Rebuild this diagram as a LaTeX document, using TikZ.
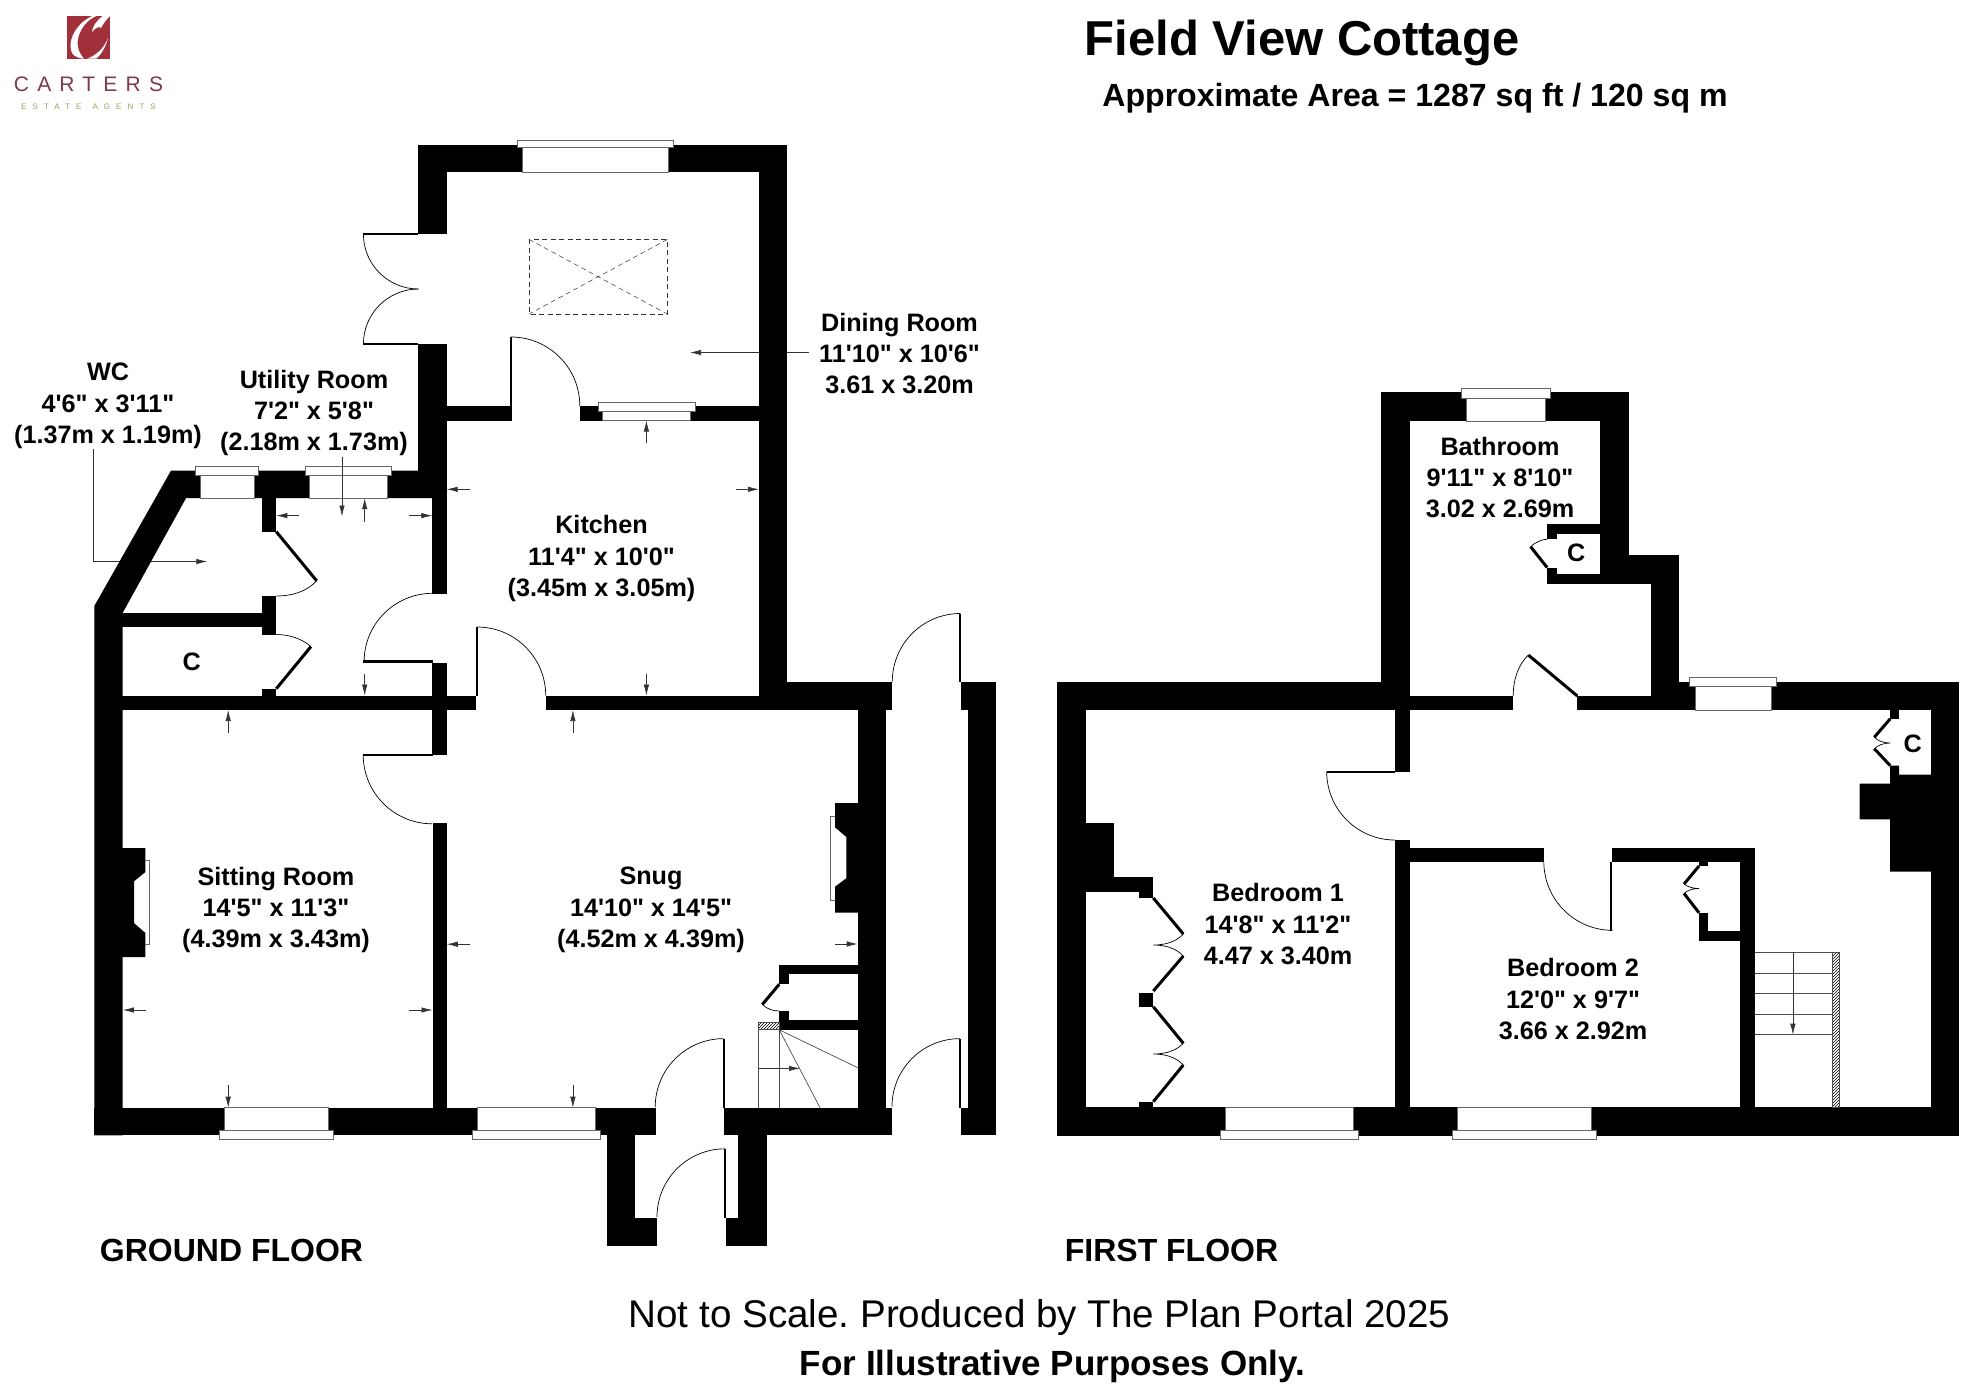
\documentclass[tikz,border=0pt]{standalone}
\usepackage{fontspec}
\usetikzlibrary{arrows.meta,patterns}
\newfontfamily\planfont{Liberation Sans}
\definecolor{logored}{HTML}{A1303B}
\definecolor{logotext}{HTML}{7E3A48}
\definecolor{logogold}{HTML}{A99A5C}
\frenchspacing
\begin{document}
\begin{tikzpicture}[x=1pt,y=-1pt]
\tikzstyle{wall}=[fill=black,draw=none]
\tikzstyle{glass}=[fill=white,draw=black!60,line width=0.6pt]
\tikzstyle{swing}=[draw=black,line width=0.7pt]
\tikzstyle{leaf}=[draw=black,line width=2.2pt]
\tikzstyle{tread}=[draw=black!70,line width=0.7pt]
\tikzstyle{skylight}=[draw=black!80,line width=0.5pt,dash pattern=on 5pt off 3.5pt]
\tikzstyle{dim}=[draw=black!80,line width=0.7pt,-{Latex[length=11pt,width=5.5pt]}]
\tikzstyle{roomlabel}=[font=\planfont\bfseries\fontsize{25.2}{31.3}\selectfont,align=center,inner sep=0pt]
\tikzstyle{floorlabel}=[font=\planfont\bfseries\fontsize{32}{38}\selectfont,inner sep=0pt]
\useasboundingbox (0,0) rectangle (1961,1385);
% logo
\fill[logored] (67.3,15.7) rectangle (110.3,58.7);
\fill[white] (93,15.7) .. controls (78,22) and (68,38) .. (71,50) .. controls (72,55) and (76,58) .. (84,58.7) .. controls (78,52) and (76,44) .. (79,35) .. controls (82,27) and (87,20) .. (97,15.7) -- cycle;
\fill[white] (103,15.7) .. controls (97,20) and (92,27) .. (92,32) .. controls (96,27) and (100,26) .. (101,28) .. controls (103,24) and (106,20) .. (110.3,15.7) -- cycle;
\fill[white] (108,38) .. controls (104,48) and (97,55) .. (87,58.7) -- (96,58.7) .. controls (102,54) and (106,46) .. (108,38) -- cycle;
\node[text=logotext,inner sep=0pt] (logoname) at (88.5,84) {\planfont\addfontfeature{LetterSpace=39}\fontsize{21}{24}\selectfont CARTERS};
\node[text=logogold,inner sep=0pt] (logosub) at (88.5,106.5) {\planfont\addfontfeature{LetterSpace=76}\fontsize{8}{10}\selectfont ESTATE\hspace{11pt}AGENTS};
% leader lines that pass under the walls
\draw[dim] (93.3,449) -- (93.3,561.5) -- (207.3,561.5);
\draw[dim] (809,352.5) -- (690,352.5);
% ground floor walls
\fill[wall] (171,470.6) -- (446.7,470.6) -- (446.7,498.2) -- (186,498.2) -- (122.6,613) -- (122.6,1135.4) -- (94.3,1135.4) -- (94.3,606) -- cycle;
\fill[wall] (418.3,144.5) rectangle (786.6,172.2);
\fill[wall] (418.3,144.5) rectangle (446.5,234);
\fill[wall] (418.3,344.2) rectangle (446.5,498);
\fill[wall] (759,144.5) rectangle (786.6,710);
\fill[wall] (446,406) rectangle (510.7,420.5);
\fill[wall] (579.5,406) rectangle (759,420.5);
\fill[wall] (432.3,490) rectangle (446.7,593.7);
\fill[wall] (432.3,662.5) rectangle (446.7,754.8);
\fill[wall] (432.5,823.2) rectangle (446.8,1108);
\fill[wall] (122,695.6) rectangle (476.3,710);
\fill[wall] (545.5,695.6) rectangle (786,710);
\fill[wall] (786,682) rectangle (892,710);
\fill[wall] (857.7,710) rectangle (885.7,1108);
\fill[wall] (960.7,682) rectangle (996.3,710);
\fill[wall] (967.7,710) rectangle (996.3,1135.4);
\fill[wall] (960.7,1107.9) rectangle (996.3,1135.4);
\fill[wall] (94.3,1107.7) rectangle (655.7,1135.4);
\fill[wall] (723.7,1107.7) rectangle (892,1135.4);
\fill[wall] (607.3,1135) rectangle (635.3,1245.6);
\fill[wall] (607.3,1217.7) rectangle (657,1245.6);
\fill[wall] (738.3,1135) rectangle (766.7,1245.6);
\fill[wall] (725.7,1217.7) rectangle (766.7,1245.6);
% wc and cupboard walls
\fill[wall] (122,613) rectangle (263,627);
\fill[wall] (262.3,498) rectangle (276.3,531.7);
\fill[wall] (262.3,596) rectangle (276.3,634.5);
\fill[wall] (262.3,688.7) rectangle (276.3,696);
% chimney breasts
\fill[wall] (122,848) -- (145.4,848) -- (145.4,872) -- (134,881.3) -- (134,923) -- (145.4,933) -- (145.4,957) -- (122,957) -- cycle;
\fill[wall] (858,803.2) -- (835,803.2) -- (835,827.3) -- (846.3,837) -- (846.3,878.2) -- (835,886.7) -- (835,912.7) -- (858,912.7) -- cycle;
\draw[glass,fill=none] (145.4,860.2) -- (149.6,860.2) -- (149.6,944.2) -- (145.4,944.2);
\draw[glass,fill=none] (835,815.9) -- (830.3,815.9) -- (830.3,900) -- (835,900);
% under stairs cupboard
\fill[wall] (779.3,965) rectangle (858,974.3);
\fill[wall] (779.3,965) rectangle (789,984.2);
\fill[wall] (779.3,1011) rectangle (789,1029.8);
\fill[wall] (779.3,1020.2) rectangle (858,1029.8);
% ground floor windows
\draw[glass] (195.3,466.5) rectangle (258.3,475);
\draw[glass] (200,475) rectangle (254,498.2);
\draw[glass] (305,466.5) rectangle (391.7,475);
\draw[glass] (309.7,475) rectangle (387,498.2);
\draw[glass] (517.4,139.8) rectangle (673.7,147.7);
\draw[glass] (521.9,147.7) rectangle (668.3,172.2);
\draw[glass] (598.2,402.3) rectangle (695.5,411.4);
\draw[glass] (602.7,411.4) rectangle (690.6,420.5);
\draw[glass] (219.3,1130.3) rectangle (333.6,1139.5);
\draw[glass] (224.3,1107.7) rectangle (328.6,1130.3);
\draw[glass] (471.8,1130.3) rectangle (600,1139.5);
\draw[glass] (476.8,1107.7) rectangle (595,1130.3);
% roof light
\draw[skylight] (529,239.4) rectangle (667.4,314.1);
\draw[skylight] (529,239.4) -- (667.4,314.1);
\draw[skylight] (667.4,239.4) -- (529,314.1);
% ground floor doors
\draw[leaf] (363.4,234) -- (418.3,234);
\draw[leaf] (363.4,344.2) -- (418.3,344.2);
\draw[swing] (363.4,234) arc[start angle=180,end angle=90,radius=55];
\draw[swing] (418.4,289) arc[start angle=270,end angle=180,radius=55];
\draw[leaf] (510.7,420.5) -- (510.7,337);
\draw[swing] (511,337) arc[start angle=270,end angle=360,radius=68.8];
\draw[leaf] (363.4,661.5) -- (432.6,661.5);
\draw[swing] (432.6,593.3) arc[start angle=270,end angle=180,radius=68.5];
\draw[leaf] (477.2,696) -- (477.2,627);
\draw[swing] (477.2,627) arc[start angle=270,end angle=360,radius=68.5];
\draw[leaf] (363.2,754.8) -- (432.5,754.8);
\draw[swing] (363.2,754.8) arc[start angle=180,end angle=90,radius=69];
\draw[leaf] (723.7,1108) -- (723.7,1038.6);
\draw[swing] (723.7,1038.6) arc[start angle=270,end angle=180,radius=68.5];
\draw[leaf] (725,1217.7) -- (725,1148.8);
\draw[swing] (725,1148.8) arc[start angle=270,end angle=180,radius=68];
\draw[leaf] (960.3,682) -- (960.3,613.5);
\draw[swing] (960.3,613.5) arc[start angle=270,end angle=180,radius=68];
\draw[leaf] (960,1108) -- (960,1038.6);
\draw[swing] (960,1038.6) arc[start angle=270,end angle=180,radius=68];
\draw[leaf,line width=3pt] (276.3,531.7) -- (316.7,580.8);
\draw[swing] (276.3,596) .. controls (295,596) and (308,590) .. (316.7,580.8);
\draw[leaf,line width=3pt] (311,646.5) -- (276.3,688.7);
\draw[swing] (276.3,634.5) .. controls (290,634.5) and (302,639) .. (311,646.5);
\draw[leaf,line width=3pt] (779.3,984.2) -- (762.3,1004.5);
\draw[swing] (762.3,1004.5) .. controls (767,1009) and (773,1011) .. (779.3,1011);
% ground floor stairs
\draw[tread,pattern=north east lines] (758.7,1022.5) rectangle (779.3,1029.8);
\draw[tread] (758.7,1029.8) -- (758.7,1107.7);
\draw[tread] (779.3,1029.8) -- (779.3,1107.7);
\draw[tread] (857.7,1067.7) -- (779.3,1029.8) -- (820,1107.7);
\draw[dim] (758.7,1068.4) -- (800,1068.4);
% ground floor dimension arrows
\draw[dim] (342,456.8) -- (342,516.5);
\draw[dim] (364.7,522) -- (364.7,498.2);
\draw[dim] (299.3,515.6) -- (276.3,515.6);
\draw[dim] (409.3,515.6) -- (432.3,515.6);
\draw[dim] (364.7,673.6) -- (364.7,695.6);
\draw[dim] (469.6,489.3) -- (446.7,489.3);
\draw[dim] (736,489.3) -- (759,489.3);
\draw[dim] (646.4,443.4) -- (646.4,420.5);
\draw[dim] (646.4,673.6) -- (646.4,695.6);
\draw[dim] (228.2,733.3) -- (228.2,710);
\draw[dim] (572.9,733.3) -- (572.9,710);
\draw[dim] (146,1010) -- (122.9,1010);
\draw[dim] (409.3,1010) -- (432.5,1010);
\draw[dim] (470,944.2) -- (446.8,944.2);
\draw[dim] (835,944) -- (857.7,944);
\draw[dim] (228.2,1084.8) -- (228.2,1107.7);
\draw[dim] (572.9,1084.8) -- (572.9,1107.7);
% first floor walls
\fill[wall] (1057.3,682.3) rectangle (1409.7,710);
\fill[wall] (1057.3,682.3) rectangle (1085.7,1135);
\fill[wall] (1057.3,1107.3) rectangle (1959,1135.7);
\fill[wall] (1381.3,392.4) rectangle (1409.6,710);
\fill[wall] (1381.3,392.4) rectangle (1628.6,420.8);
\fill[wall] (1600.3,392.4) rectangle (1628.6,583.5);
\fill[wall] (1547.2,524.3) rectangle (1600.3,534.2);
\fill[wall] (1547.2,524.3) rectangle (1557,539.2);
\fill[wall] (1547.2,567.6) rectangle (1557,583.5);
\fill[wall] (1547.2,574) rectangle (1678.7,583.5);
\fill[wall] (1628,555) rectangle (1678.7,583.5);
\fill[wall] (1650.8,555) rectangle (1678.7,710);
\fill[wall] (1409.6,696) rectangle (1513.2,709.9);
\fill[wall] (1577.3,696) rectangle (1678.7,709.9);
\fill[wall] (1678,682) rectangle (1959,710);
\fill[wall] (1930.9,682) rectangle (1959,1135.7);
\fill[wall] (1395,710) rectangle (1409.7,771.7);
\fill[wall] (1395,840) rectangle (1409.7,1107.3);
\fill[wall] (1409.7,847.5) rectangle (1544.1,861.6);
\fill[wall] (1612,847.5) rectangle (1754.5,861.6);
\fill[wall] (1740.1,847.5) rectangle (1754.5,1107.3);
\fill[wall] (1699,861.6) rectangle (1708,866);
\fill[wall] (1699,912.8) rectangle (1708,941.2);
\fill[wall] (1699,931.2) rectangle (1740.1,941.2);
\fill[wall] (1890.2,710) rectangle (1899.2,718.8);
\fill[wall] (1890.2,765.6) -- (1899.2,765.6) -- (1899.2,774.5) -- (1931,774.5) -- (1931,871.5) -- (1890.2,871.5) -- (1890.2,819.3) -- (1859.6,819.3) -- (1859.6,783.5) -- (1890.2,783.5) -- cycle;
\fill[wall] (1085,823.3) rectangle (1113.7,892.3);
\fill[wall] (1085,877.3) rectangle (1153.3,892.3);
\fill[wall] (1138.7,877.3) rectangle (1153.3,898);
\fill[wall] (1138.7,992.7) rectangle (1153.3,1006.7);
\fill[wall] (1138.7,1101.7) rectangle (1153.3,1107.5);
% first floor windows
\draw[glass] (1460.8,388.5) rectangle (1549.8,398);
\draw[glass] (1466.1,398) rectangle (1544.9,420.8);
\draw[glass] (1689.3,677.5) rectangle (1776.3,686);
\draw[glass] (1694.9,686) rectangle (1771,710);
\draw[glass] (1220.7,1130.7) rectangle (1358.7,1139.3);
\draw[glass] (1225.3,1107.3) rectangle (1353.7,1130.7);
\draw[glass] (1452.5,1130.7) rectangle (1596.5,1139.3);
\draw[glass] (1457.4,1107.3) rectangle (1591.6,1130.7);
% first floor doors
\draw[leaf] (1326.7,771.7) -- (1395,771.7);
\draw[swing] (1326.7,771.7) arc[start angle=180,end angle=90,radius=68.3];
\draw[leaf] (1611.2,861.6) -- (1611.2,930.7);
\draw[swing] (1543.8,861.6) arc[start angle=180,end angle=90,radius=68.7];
\draw[leaf,line width=3pt] (1577.3,696) -- (1528.3,655);
\draw[swing] (1513.2,696) .. controls (1513.2,678) and (1519,664) .. (1528.3,655);
\draw[leaf,line width=3pt] (1530.6,546.7) -- (1547.2,567.6);
\draw[swing] (1547.2,539.2) .. controls (1541,539.5) and (1535,542.5) .. (1530.6,546.7);
% folding doors
\draw[leaf,line width=3pt] (1153.3,898) -- (1183.3,934);
\draw[swing] (1183.3,934) .. controls (1176,942) and (1165,945) .. (1153.3,945) .. controls (1165,945) and (1176,948) .. (1183.3,956);
\draw[leaf,line width=3pt] (1183.3,956) -- (1153.3,991);
\draw[leaf,line width=3pt] (1153.3,1006.7) -- (1183.3,1043.3);
\draw[swing] (1183.3,1043.3) .. controls (1176,1051) and (1165,1054) .. (1153.3,1054) .. controls (1165,1054) and (1176,1057) .. (1183.3,1065);
\draw[leaf,line width=3pt] (1183.3,1065) -- (1153.3,1101.7);
\draw[leaf,line width=3pt] (1890.2,718.8) -- (1874.3,737.2);
\draw[swing] (1874.3,737.2) .. controls (1878,741) and (1884,743) .. (1890.2,743) .. controls (1884,743) and (1878,745) .. (1874.3,748.7);
\draw[leaf,line width=3pt] (1874.3,748.7) -- (1890.2,765.6);
\draw[leaf,line width=3pt] (1699,866) -- (1684,884);
\draw[swing] (1684,884) .. controls (1688,887) and (1693,888.5) .. (1699,888.5) .. controls (1693,888.5) and (1688,890) .. (1684,893.4);
\draw[leaf,line width=3pt] (1684,893.4) -- (1699,912.8);
% first floor stairs
\draw[tread,pattern=north east lines] (1832.5,952) rectangle (1839.3,1107.3);
\draw[tread] (1754.5,952) -- (1832.5,952);
\draw[tread] (1754.5,973) -- (1832.5,973);
\draw[tread] (1754.5,993) -- (1832.5,993);
\draw[tread] (1754.5,1014.3) -- (1832.5,1014.3);
\draw[tread] (1754.5,1034.7) -- (1832.5,1034.7);
\draw[dim] (1792.9,952) -- (1792.9,1034.7);
% room labels
\node[roomlabel] (wc) at (108,406) {WC\\4'6" x 3'11"\\(1.37m x 1.19m)};
\node[roomlabel] (utility) at (314,413) {Utility Room\\7'2" x 5'8"\\(2.18m x 1.73m)};
\node[roomlabel] (dining) at (899.5,353.5) {Dining Room\\11'10" x 10'6"\\3.61 x 3.20m};
\node[roomlabel] (kitchen) at (601.5,558.5) {Kitchen\\11'4" x 10'0"\\(3.45m x 3.05m)};
\node[roomlabel] (sitting) at (276,910) {Sitting Room\\14'5" x 11'3"\\(4.39m x 3.43m)};
\node[roomlabel] (snug) at (651,910) {Snug\\14'10" x 14'5"\\(4.52m x 4.39m)};
\node[roomlabel] (bathroom) at (1500,477.5) {Bathroom\\9'11" x 8'10"\\3.02 x 2.69m};
\node[roomlabel] (bedone) at (1278,924) {Bedroom 1\\14'8" x 11'2"\\4.47 x 3.40m};
\node[roomlabel] (bedtwo) at (1573,999) {Bedroom 2\\12'0" x 9'7"\\3.66 x 2.92m};
\node[roomlabel] (cupa) at (191.7,662) {C};
\node[roomlabel] (cupb) at (1576.2,553) {C};
\node[roomlabel] (cupc) at (1912.8,744) {C};
% headings
\node[floorlabel] (groundfloor) at (231.5,1250) {GROUND FLOOR};
\node[floorlabel] (firstfloor) at (1171.5,1250) {FIRST FLOOR};
\node[inner sep=0pt,font=\planfont\bfseries\fontsize{49}{52}\selectfont] (title) at (1302,43) {Field View Cottage};
\node[inner sep=0pt,font=\planfont\bfseries\fontsize{32.1}{36}\selectfont] (area) at (1415,98) {Approximate Area = 1287 sq ft / 120 sq m};
\node[inner sep=0pt,font=\planfont\fontsize{38.6}{42}\selectfont] (scale) at (1039.5,1317) {Not to Scale. Produced by The Plan Portal 2025};
\node[inner sep=0pt,font=\planfont\bfseries\fontsize{35}{38}\selectfont] (purpose) at (1052.5,1366) {For Illustrative Purposes Only.};
\end{tikzpicture}
\end{document}
